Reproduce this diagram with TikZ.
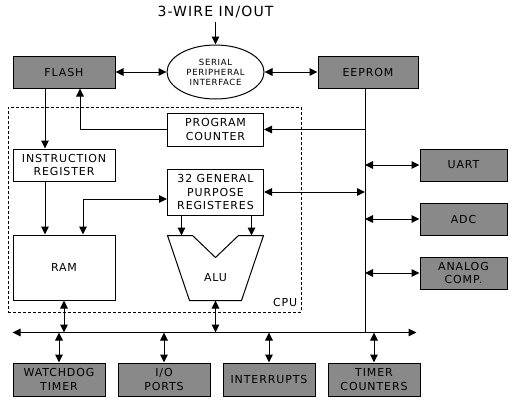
\documentclass[tikz,border=0pt]{standalone}
\usepackage{fontspec}
\setmainfont{DejaVu Sans}[LetterSpace=8]
\usetikzlibrary{arrows.meta,positioning,shapes.geometric,calc}
\definecolor{unitgray}{RGB}{137,137,137}

\begin{document}
\begin{tikzpicture}[x=1pt, y=-1pt,
  font=\fontsize{11}{13.5}\selectfont,
  blk/.style={draw, rectangle, inner sep=0pt, align=center, line width=1pt},
  unit/.style={blk, fill=unitgray, minimum height=32pt},
  wire/.style={line width=1pt},
  one/.style={wire, -{Triangle[length=8pt,width=7.5pt]}},
  two/.style={wire, {Triangle[length=8pt,width=7.5pt]}-{Triangle[length=8pt,width=7.5pt]}}
]
\useasboundingbox (0,0) rectangle (512,405);

% memories and serial interface
\node[unit, minimum width=102pt] (flash) at (64,72) {FLASH};
\node[blk, ellipse, minimum width=97pt, minimum height=54pt, font=\fontsize{8.5}{10}\selectfont, right=51pt of flash] (spi) {SERIAL\\PERIPHERAL\\INTERFACE};
\node[unit, minimum width=100pt, right=53pt of spi] (eeprom) {EEPROM};
\node[above=23pt of spi, font=\fontsize{14}{16}\selectfont] (wire3) {3-WIRE IN/OUT};
\draw[one] (wire3) -- (spi);
\draw[two] (flash) -- (spi);
\draw[two] (spi) -- (eeprom);

% cpu core
\node[blk, minimum width=96pt, minimum height=33pt, below=13pt of spi] (pc) {PROGRAM\\COUNTER};
\node[blk, minimum width=102pt, minimum height=32pt, below=60pt of flash] (ir) {INSTRUCTION\\REGISTER};
\node[blk, minimum width=96pt, minimum height=46pt, below=22pt of pc] (gpr) {32 GENERAL\\PURPOSE\\REGISTERES};
\node[blk, minimum width=102pt, minimum height=65pt, below=53pt of ir] (ram) {RAM};
\coordinate (alutop) at ($(gpr.south)+(0,20)$);
\coordinate (alubot) at ($(alutop)+(0,65)$);
\draw[wire] ($(alutop)+(-48,0)$) -- ++(25,0) -- ++(23,22) -- ++(23,-22) -- ++(25,0) -- ++(-22,65) -- ++(-52,0) -- cycle;
\node (alu) at ($(alutop)+(0,42)$) {ALU};
\node[draw, dash pattern=on 3pt off 2pt, line width=1pt, minimum width=293pt, minimum height=205pt, inner sep=0pt] (cpu) at (154.5,209.5) {};
\node[anchor=south east, inner sep=2pt] (cpulbl) at ($(cpu.south east)+(-2,-4)$) {CPU};

% wires inside the cpu
\draw[one] ($(flash.south)+(-19,0)$) -- ($(ir.north)+(-19,0)$);
\draw[one] ($(ir.south)+(-19,0)$) -- ($(ram.north)+(-19,0)$);
\draw[one] (pc.west) -| ($(flash.south)+(16,0)$);
\draw[two] ($(ram.north)+(19,0)$) |- ($(gpr.west)+(0,7)$);
\draw[one] ($(gpr.south)+(-34,0)$) -- ($(alutop)+(-34,0)$);
\draw[one] ($(gpr.south)+(36,0)$) -- ($(alutop)+(36,0)$);

% data bus
\coordinate (busL) at ($(ram.south west)+(0,32)$);
\coordinate (busR) at ($(busL)+(404,0)$);
\coordinate (tap) at ($(eeprom.south)+(-3,0)$);
\draw[two] (busL) -- (busR);
\draw[wire] (tap) -- (tap|-busL);
\draw[one] (tap|-pc.east) -- (pc.east);
\draw[two] (gpr.east) -- (gpr.east-|tap);
\draw[two] (ram.south) -- (ram.south|-busL);
\draw[two] (alubot) -- (alubot|-busL);

% peripherals
\node[unit, minimum width=92pt, minimum height=33pt, anchor=north west] (wdt) at ($(busL)+(0,30)$) {WATCHDOG\\TIMER};
\node[unit, minimum width=92pt, minimum height=33pt, right=12pt of wdt] (io) {I/O\\PORTS};
\node[unit, minimum width=92pt, minimum height=33pt, right=12pt of io] (intr) {INTERRUPTS};
\node[unit, minimum width=92pt, minimum height=33pt, right=12pt of intr] (tmr) {TIMER\\COUNTERS};
\foreach \u in {wdt,io,intr,tmr}
  \draw[two] (\u.north|-busL) -- (\u.north);

\node[unit, minimum width=87pt, anchor=west] (uart) at ($(eeprom.east)+(1,93)$) {UART};
\node[unit, minimum width=87pt, below=21pt of uart] (adc) {ADC};
\node[unit, minimum width=87pt, below=21pt of adc] (acomp) {ANALOG\\COMP.};
\foreach \u in {uart,adc,acomp}
  \draw[two] (\u.west-|tap) -- (\u.west);
\end{tikzpicture}
\end{document}
